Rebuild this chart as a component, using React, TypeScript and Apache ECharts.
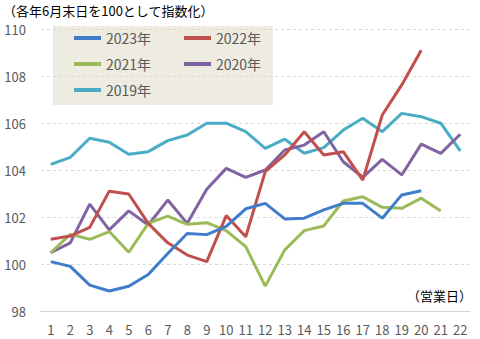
import React, { useEffect, useRef } from "react";
import * as echarts from "echarts";

const categories = ["1","2","3","4","5","6","7","8","9","10","11","12","13","14","15","16","17","18","19","20","21","22"];
const yTicks = { min: 98, max: 110, interval: 2 };

const s2023 = [100.1, 99.9, 99.1, 98.85, 99.05, 99.55, 100.45, 101.3, 101.25, 101.6, 102.35, 102.58, 101.92, 101.95, 102.3, 102.58, 102.58, 101.95, 102.94, 103.12];
const s2022 = [101.05, 101.19, 101.56, 103.1, 102.98, 101.73, 100.9, 100.38, 100.1, 102.06, 101.16, 103.93, 104.64, 105.63, 104.64, 104.78, 103.57, 106.34, 107.62, 109.1];
const s2021 = [100.48, 101.26, 101.05, 101.38, 100.5, 101.73, 102.04, 101.69, 101.76, 101.42, 100.74, 99.06, 100.6, 101.42, 101.62, 102.68, 102.86, 102.41, 102.37, 102.8, 102.26];
const s2020 = [100.48, 100.9, 102.55, 101.45, 102.26, 101.66, 102.72, 101.73, 103.18, 104.07, 103.69, 104.0, 104.85, 105.06, 105.63, 104.35, 103.69, 104.45, 103.79, 105.1, 104.71, 105.52];
const s2019 = [104.24, 104.54, 105.35, 105.18, 104.67, 104.78, 105.25, 105.49, 105.99, 105.99, 105.63, 104.92, 105.31, 104.71, 104.95, 105.7, 106.2, 105.63, 106.41, 106.27, 105.99, 104.81];

const seriesNames = ["2023年", "2022年", "2021年", "2020年", "2019年"];
const seriesColors = ["#3F7DCB", "#C0504D", "#9BBB59", "#8064A2", "#4BACC6"];
const seriesData = [s2023, s2022, s2021, s2020, s2019];

const titleText = "（各年6月末日を100として指数化）";
const xUnitText = "（営業日）";

const FONT = "'Noto Sans CJK JP', 'Noto Sans', sans-serif";

export default function App() {
  const ref = useRef<HTMLDivElement>(null);
  useEffect(() => {
    if (!ref.current) return;
    const chart = echarts.init(ref.current, undefined, { renderer: "svg" });
    const legendCommon = {
      orient: "vertical",
      icon: "rect",
      itemWidth: 27,
      itemHeight: 4,
      itemGap: 12,
      padding: 0,
      textStyle: { fontFamily: FONT, fontSize: 14, color: "#595959" },
      selectedMode: false,
    };
    chart.setOption({
      animation: false,
      textStyle: { fontFamily: FONT },
      grid: { left: 41, right: 10, top: 29, bottom: 28 },
      graphic: [
        {
          type: "rect",
          shape: { x: 53, y: 26, width: 220, height: 79 },
          style: { fill: "#EEEBE1" },
          z: 0,
        },
        {
          type: "text",
          left: 3,
          top: 4,
          style: { text: titleText, fontFamily: FONT, fontSize: 13, fill: "#000" },
        },
        {
          type: "text",
          right: 8,
          top: 289,
          style: { text: xUnitText, fontFamily: FONT, fontSize: 13, fill: "#000" },
        },
      ],
      legend: [
        { ...legendCommon, left: 74, top: 31, data: ["2023年", "2021年", "2019年"] },
        { ...legendCommon, left: 184, top: 31, data: ["2022年", "2020年"] },
      ],
      xAxis: {
        type: "category",
        data: categories,
        boundaryGap: true,
        axisTick: { show: false },
        axisLine: { lineStyle: { color: "#DCCFCF", width: 1 } },
        axisLabel: { color: "#595959", fontSize: 13, margin: 12, fontFamily: FONT, interval: 0 },
      },
      yAxis: {
        type: "value",
        min: yTicks.min,
        max: yTicks.max,
        interval: yTicks.interval,
        axisLabel: { color: "#595959", fontSize: 13, margin: 15, fontFamily: FONT },
        splitLine: { lineStyle: { color: "#D9D9D9", type: [3, 3], width: 1 } },
        axisLine: { show: false },
        axisTick: { show: false },
      },
      series: seriesData.map((d, i) => ({
        name: seriesNames[i],
        type: "line",
        data: d,
        symbol: "none",
        lineStyle: { color: seriesColors[i], width: 3 },
        itemStyle: { color: seriesColors[i] },
        z: 10 - i,
      })),
    });
    return () => chart.dispose();
  }, []);
  return <div ref={ref} style={{ width: 480, height: 339, position: "absolute", left: 0, top: 0 }} />;
}
